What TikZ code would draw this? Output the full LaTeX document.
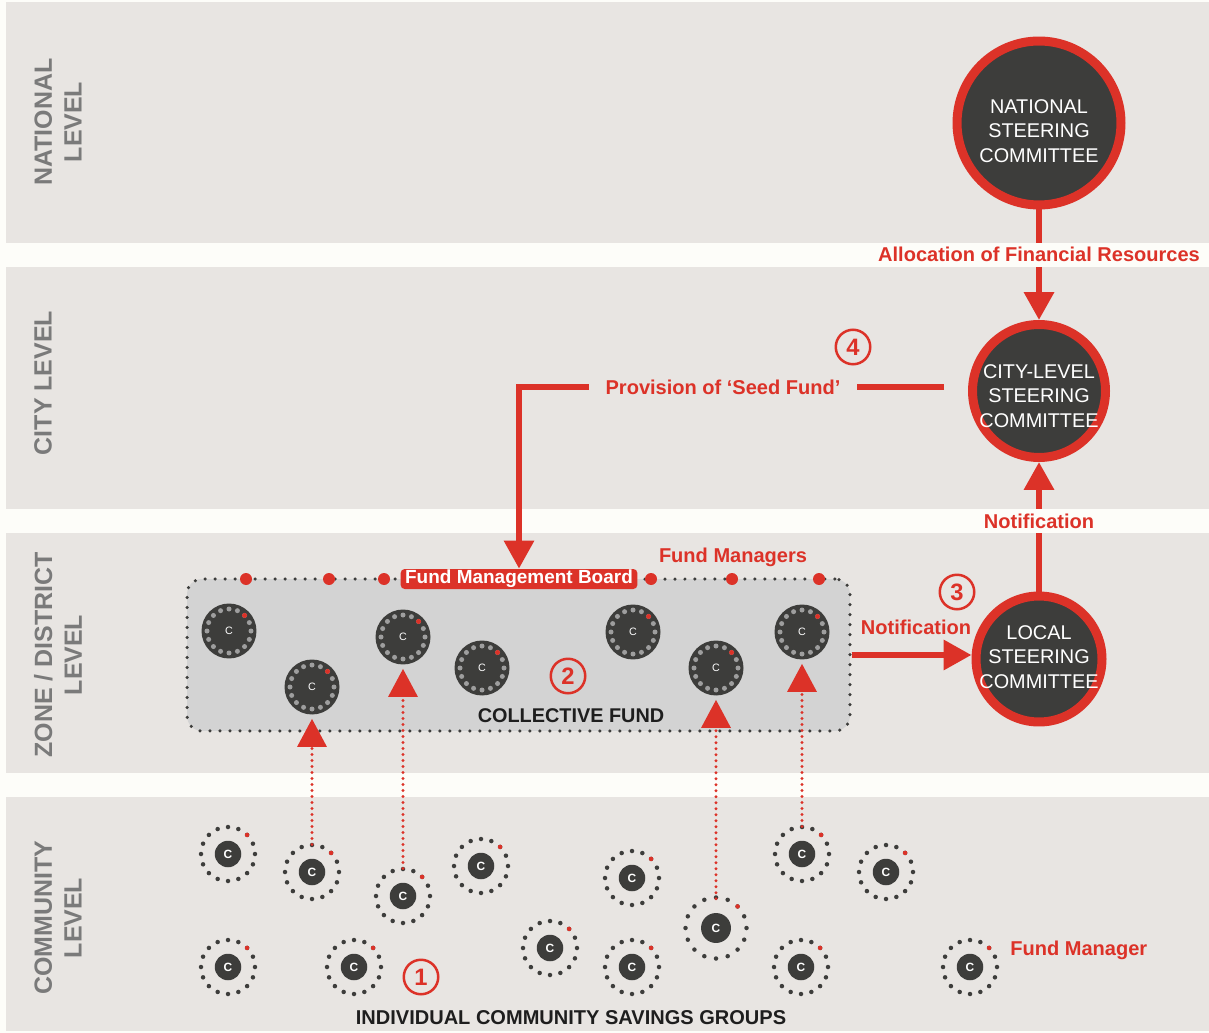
\documentclass[tikz,border=0pt]{standalone}
\usepackage{fontspec}
\setmainfont{Liberation Sans}
\usepackage{xcolor}
\usetikzlibrary{arrows.meta, positioning}

\definecolor{fnred}{HTML}{DC3228}
\definecolor{darkc}{HTML}{3D3D3B}
\definecolor{bandgray}{HTML}{E8E5E2}
\definecolor{gapwhite}{HTML}{FDFDF9}
\definecolor{boxgray}{HTML}{D3D3D3}
\definecolor{dotgray}{HTML}{9E9E9E}
\definecolor{lvlgray}{HTML}{7A7A7A}
\definecolor{inkblack}{HTML}{1E1E1E}

\tikzset{
  lvl/.style={rotate=90, text=lvlgray, align=center, font=\fontsize{14.2}{17}\selectfont\bfseries},
  cttee/.style={circle, draw=fnred, fill=darkc, line width=0.18cm, inner sep=0pt},
  ctext/.style={text=white, align=center, inner sep=0pt, font=\fontsize{11.3}{13.9}\selectfont},
  lab/.style={text=fnred, font=\fontsize{11.4}{13}\selectfont\bfseries},
  gaplab/.style={lab, fill=gapwhite, inner ysep=0pt, minimum height=0.48cm},
  seedlab/.style={lab, fill=bandgray, inner xsep=0.34cm, inner ysep=0.05cm},
  blk/.style={text=inkblack, font=\fontsize{11.3}{13}\selectfont\bfseries},
  num/.style={circle, draw=fnred, line width=0.05cm, text=fnred, minimum size=0.69cm, inner sep=0pt, font=\fontsize{13.5}{14}\selectfont\bfseries},
  flow/.style={draw=fnred, line width=0.13cm, -{Triangle[width=0.58cm,length=0.56cm]}},
  feed/.style={draw=fnred, line width=0.065cm, dash pattern=on 0pt off 0.12cm, line cap=round, -{Triangle[width=0.58cm,length=0.56cm]}},
  fundbox/.style={draw=darkc, fill=boxgray, rounded corners=0.3cm, minimum width=13.26cm, minimum height=3.04cm, line width=0.07cm, dash pattern=on 0pt off 0.2cm, line cap=round},
  boardlab/.style={fill=fnred, text=white, rounded corners=0.08cm, inner xsep=0.09cm, inner ysep=0pt, minimum height=0.4cm, font=\fontsize{10.8}{12}\selectfont\bfseries},
  fundc/.style={circle, fill=darkc, minimum size=1.1cm, inner sep=0pt, text=white, font=\fontsize{6.1}{7}\selectfont},
  grp/.style={circle, fill=darkc, inner sep=0pt, text=white, font=\fontsize{6.8}{8}\selectfont\bfseries}
}

% fund member circle: name, x, y
\newcommand{\fundcircle}[3]{%
  \node[fundc] (#1) at (#2,#3) {C};
  \foreach \a in {0,22.5,...,337.5}
    \fill[dotgray] (#1) ++(\a:0.44cm) circle (0.05cm);
  \fill[fnred] (#1) ++(45:0.44cm) circle (0.05cm);
}

% savings group: [scale] name, x, y
\newcommand{\savgroup}[4][1]{%
  \pgfmathsetmacro\grpd{#1*0.53}
  \pgfmathsetmacro\ringr{#1*0.54}
  \node[grp, minimum size=\grpd cm] (#2) at (#3,#4) {C};
  \foreach \a in {0,22.5,...,337.5}
    \fill[darkc] (#2) ++(\a:\ringr cm) circle (0.045cm);
  \fill[fnred] (#2) ++(45:\ringr cm) circle (0.045cm);
}

\begin{document}
\begin{tikzpicture}[x=0.02cm, y=-0.02cm]
    % Background and level bands
    \fill[gapwhite] (0,0) rectangle (1209,1033);
    \useasboundingbox (0,0) rectangle (1209,1033);
    \fill[bandgray] (6,2) rectangle (1209,243);
    \fill[bandgray] (6,267) rectangle (1209,509);
    \fill[bandgray] (6,533) rectangle (1209,773);
    \fill[bandgray] (6,797) rectangle (1209,1031);

    % Level names
    \node[lvl] (natlvl) at (58,122) {NATIONAL\\LEVEL};
    \node[lvl] (citylvl) at (43,383) {CITY LEVEL};
    \node[lvl] (zonelvl) at (58,655) {ZONE / DISTRICT\\LEVEL};
    \node[lvl] (commlvl) at (58,918) {COMMUNITY\\LEVEL};

    % Committees
    \node[cttee, minimum size=3.28cm] (natc) at (1039,123) {};
    \node[cttee, minimum size=2.66cm] (cityc) at (1039,391) {};
    \node[cttee, minimum size=2.52cm] (localc) at (1039,659) {};
    \node[ctext] (natt) at (1039,131) {NATIONAL\\STEERING\\COMMITTEE};
    \node[ctext] (cityt) at (1039,396) {CITY-LEVEL\\STEERING\\COMMITTEE};
    \node[ctext] (localt) at (1039,657) {LOCAL\\STEERING\\COMMITTEE};

    % Collective fund
    \node[fundbox] (fund) at (518.5,655) {};
    \foreach \x in {246,329,384,651,732,819}
        \fill[fnred] (\x,579) circle (0.12cm);
    \node[boardlab] (board) at (519,579) {Fund Management Board};
    \node[lab] (fmgrs) at (733,557) {Fund Managers};
    \node[blk] (cfund) at (571,716) {COLLECTIVE FUND};
    \node[num] (n2) at (568,676) {2};
    \fundcircle{f1}{229}{631}
    \fundcircle{f2}{312}{687}
    \fundcircle{f3}{403}{637}
    \fundcircle{f4}{482}{668}
    \fundcircle{f5}{633}{632}
    \fundcircle{f6}{716}{668}
    \fundcircle{f7}{802}{632}

    % Savings groups
    \savgroup{g1}{228}{854}
    \savgroup{g2}{312}{872}
    \savgroup{g3}{403}{896}
    \savgroup{g4}{481}{866}
    \savgroup{g5}{632}{878}
    \savgroup[1.13]{g6}{716}{928}
    \savgroup{g7}{802}{854}
    \savgroup{g8}{886}{872}
    \savgroup{g9}{228}{967}
    \savgroup{g10}{354}{967}
    \savgroup{g11}{550}{948}
    \savgroup{g12}{632}{967}
    \savgroup{g13}{801}{967}
    \savgroup{g14}{970}{967}
    \node[num] (n1) at (421,977) {1};
    \node[blk, font=\fontsize{11.4}{13}\selectfont\bfseries] (indiv) at (571,1018) {INDIVIDUAL COMMUNITY SAVINGS GROUPS};
    \node[lab, anchor=west, inner xsep=0pt] (fmgr) at (1010,950) {Fund Manager};

    % Contributions
    \foreach \g/\f in {g2/f2, g3/f3, g6/f6, g7/f7}
        \draw[feed, shorten <=0.28cm, shorten >=0.08cm] (\g) -- (\f);

    % Flows
    \draw[flow] (natc) -- node[gaplab, pos=0.41] (alloc) {Allocation of Financial Resources} (cityc);
    \draw[flow] (localc) -- node[gaplab, pos=0.544] (notif1) {Notification} (cityc);
    \draw[flow] (fund.east) -- (fund.east -| localc.west);
    \node[lab] (notif2) at (916,627) {Notification};
    \node[num] (n3) at (957,592) {3};
    \draw[flow, line width=0.12cm] ([xshift=-0.48cm,yshift=0.08cm]cityc.west) -| node[seedlab, pos=0.26] (seed) {Provision of ‘Seed Fund’} (board.north);
    \node[num] (n4) at (853,347) {4};
\end{tikzpicture}
\end{document}
